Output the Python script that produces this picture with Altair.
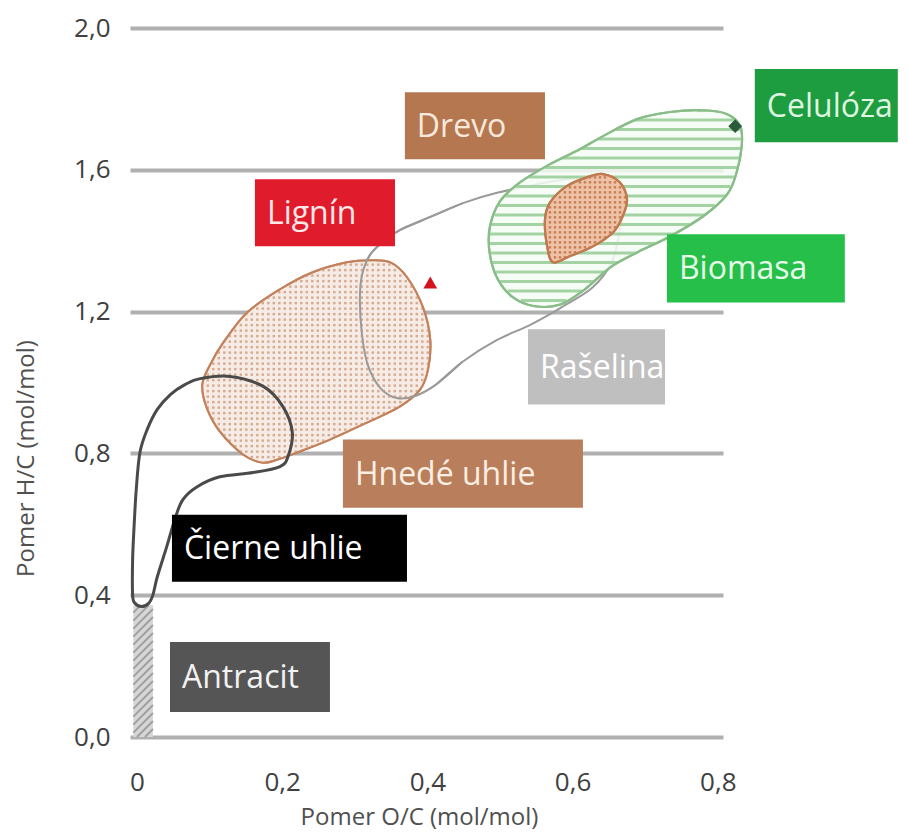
import altair as alt
import numpy as np
import pandas as pd

FONT = "Open Sans"

# ---------------- axis ticks ----------------
X_TICKS = [0, 0.2, 0.4, 0.6, 0.8]
Y_TICKS = [0.0, 0.4, 0.8, 1.2, 1.6, 2.0]

# ---------------- regions (O/C, H/C) ----------------
ANTRACIT_X = [-0.005, 0.022]
ANTRACIT_Y = [0.0, 0.372]

CIERNE_X = [-0.006, -0.006, -0.004, -0.001, 0.004, 0.014, 0.028, 0.046, 0.066, 0.087,
            0.128, 0.174, 0.201, 0.214, 0.208, 0.197, 0.160, 0.114, 0.083, 0.063,
            0.052, 0.041, 0.028, 0.022, 0.016, 0.006, -0.003]
CIERNE_Y = [0.401, 0.500, 0.593, 0.698, 0.802, 0.867, 0.924, 0.966, 0.994, 1.011,
            1.017, 0.989, 0.932, 0.859, 0.791, 0.763, 0.746, 0.734, 0.706, 0.669,
            0.613, 0.537, 0.452, 0.401, 0.377, 0.368, 0.378]

HNEDE_X = [0.289, 0.321, 0.349, 0.372, 0.394, 0.404, 0.401, 0.390, 0.362, 0.317, 0.266,
           0.220, 0.193, 0.172, 0.146, 0.114, 0.096, 0.090, 0.101, 0.119, 0.152, 0.197, 0.242]
HNEDE_Y = [1.339, 1.345, 1.339, 1.297, 1.212, 1.121, 1.037, 0.980, 0.932, 0.887, 0.839,
           0.802, 0.782, 0.774, 0.797, 0.862, 0.929, 0.994, 1.051, 1.113, 1.198, 1.263, 1.311]

RASELINA_X = [0.607, 0.569, 0.496, 0.449, 0.404, 0.362, 0.342, 0.321, 0.310, 0.307, 0.310, 0.318,
              0.335, 0.358, 0.383, 0.411, 0.448, 0.496, 0.541, 0.583, 0.627, 0.654, 0.665, 0.668]
RASELINA_Y = [1.577, 1.566, 1.535, 1.506, 1.467, 1.430, 1.402, 1.360, 1.303, 1.233, 1.134, 1.049,
              0.985, 0.956, 0.962, 0.993, 1.058, 1.120, 1.162, 1.210, 1.267, 1.340, 1.430, 1.501]

BIOMASA_X = [0.610, 0.642, 0.689, 0.734, 0.780, 0.813, 0.831, 0.833, 0.826, 0.813, 0.780, 0.734,
             0.689, 0.652, 0.617, 0.583, 0.548, 0.518, 0.497, 0.486, 0.486, 0.500, 0.528, 0.569]
BIOMASA_Y = [1.658, 1.695, 1.743, 1.763, 1.768, 1.757, 1.723, 1.667, 1.593, 1.531, 1.469, 1.412,
             1.367, 1.325, 1.263, 1.220, 1.215, 1.240, 1.291, 1.362, 1.438, 1.511, 1.565, 1.616]

DREVO_X = [0.642, 0.665, 0.675, 0.669, 0.656, 0.628, 0.596, 0.573, 0.565, 0.562, 0.569, 0.592, 0.620]
DREVO_Y = [1.588, 1.565, 1.517, 1.469, 1.424, 1.384, 1.356, 1.339, 1.384, 1.460, 1.508, 1.554, 1.579]

# ---------------- point markers ----------------
MARKER_NAMES = ["Lignín", "Celulóza"]
MARKER_X = [0.404, 0.824]
MARKER_Y = [1.282, 1.723]
MARKER_SHAPES = ["triangle-up", "diamond"]
MARKER_COLORS = ["#d4121e", "#2b5b3b"]

# ---------------- label boxes ----------------
LABELS = ["Drevo", "Celulóza", "Lignín", "Biomasa", "Rašelina", "Hnedé uhlie", "Čierne uhlie", "Antracit"]
LABEL_X1 = [0.369, 0.851, 0.1625, 0.730, 0.5386, 0.2837, 0.0482, 0.0455]
LABEL_X2 = [0.562, 1.048, 0.3554, 0.975, 0.7273, 0.6143, 0.3719, 0.2658]
LABEL_Y1 = [1.630, 1.678, 1.384, 1.226, 0.938, 0.647, 0.438, 0.0706]
LABEL_Y2 = [1.819, 1.884, 1.573, 1.418, 1.150, 0.839, 0.627, 0.268]
LABEL_FILL = ["#b5774f", "#1d9c40", "#e01b2c", "#25bf4a", "#bfbfbf", "#b97e5b", "#000000", "#555555"]
LABEL_TEXT = ["#f7e8dc", "#dff5e1", "#ffe8e8", "#e6fbe8", "#ffffff", "#fbeee2", "#ffffff", "#f2f2f2"]

# ---------------- geometry helpers (textures) ----------------
W, H = 593, 709
X_DOM = [-0.0096, 0.8072]
Y_DOM = [0.0, 2.0]
SX = W / (X_DOM[1] - X_DOM[0])
SY = H / (Y_DOM[1] - Y_DOM[0])


def poly_df(xs, ys):
    return pd.DataFrame({"x": xs, "y": ys, "i": list(range(len(xs)))})


def inside(X, Y, xs, ys):
    res = np.zeros(X.shape, dtype=bool)
    n = len(xs)
    for k in range(n):
        x1, y1 = xs[k], ys[k]
        x2, y2 = xs[k - 1], ys[k - 1]
        cond = ((y1 > Y) != (y2 > Y)) & (X < (x2 - x1) * (Y - y1) / (y2 - y1 + 1e-12) + x1)
        res ^= cond
    return res


def dot_grid(xs, ys, step_px):
    gx = np.arange(min(xs), max(xs), step_px / SX)
    gy = np.arange(min(ys), max(ys), step_px / SY)
    X, Y = np.meshgrid(gx, gy)
    X, Y = X.ravel(), Y.ravel()
    m = inside(X, Y, xs, ys)
    return pd.DataFrame({"x": X[m], "y": Y[m]})


def h_stripes(xs, ys, step_px):
    rows = []
    n = len(xs)
    for yl in np.arange(min(ys) + step_px / SY * 0.6, max(ys), step_px / SY):
        pts = []
        for k in range(n):
            x1, y1 = xs[k], ys[k]
            x2, y2 = xs[(k + 1) % n], ys[(k + 1) % n]
            if (y1 <= yl < y2) or (y2 <= yl < y1):
                t = (yl - y1) / (y2 - y1)
                pts.append(x1 + t * (x2 - x1))
        pts.sort()
        for a, b in zip(pts[0::2], pts[1::2]):
            rows.append({"x": a, "x2": b, "y": yl})
    return pd.DataFrame(rows)


def diag_hatch(x0, x1, y0, y1, step_px):
    rows = []
    X0, X1, Y0, Y1 = x0 * SX, x1 * SX, y0 * SY, y1 * SY
    for c in np.arange(Y0 - X1, Y1 - X0, step_px):
        a = max(X0, Y0 - c)
        b = min(X1, Y1 - c)
        if b > a:
            rows.append({"x": a / SX, "y": (a + c) / SY, "x2": b / SX, "y2": (b + c) / SY})
    return pd.DataFrame(rows)


xs_ = alt.Scale(domain=X_DOM, nice=False, zero=False)
ys_ = alt.Scale(domain=Y_DOM, nice=False, zero=False)

x_axis = alt.Axis(
    values=X_TICKS,
    labelExpr="datum.value == 0 ? '0' : replace(format(datum.value, '.1f'), '.', ',')",
    grid=False, domain=False, ticks=False, tickSize=0, labelFlush=False,
    labelPadding=32, labelFontSize=26, labelFont=FONT, labelColor="#404040",
    title="Pomer O/C (mol/mol)", titleFont=FONT, titleFontSize=24, titleFontWeight="normal",
    titleColor="#505050", titleX=289, titleY=87, titleBaseline="alphabetic", titleAlign="center",
)
y_axis = alt.Axis(
    values=Y_TICKS,
    labelExpr="replace(format(datum.value, '.1f'), '.', ',')",
    grid=True, gridColor="#b0b0b0", gridWidth=4,
    domain=False, ticks=False, tickSize=0, labelFlush=False,
    labelPadding=20, labelFontSize=26, labelFont=FONT, labelColor="#404040",
    title="Pomer H/C (mol/mol)", titleFont=FONT, titleFontSize=24, titleFontWeight="normal",
    titleColor="#505050", titleX=-104, titleY=430, titleBaseline="middle", titleAlign="center",
    titleAngle=270,
)


def X(field="x"):
    return alt.X(f"{field}:Q", scale=xs_, axis=x_axis, title="Pomer O/C (mol/mol)")


def Y(field="y"):
    return alt.Y(f"{field}:Q", scale=ys_, axis=y_axis, title="Pomer H/C (mol/mol)")


antracit_df = pd.DataFrame({"x": [ANTRACIT_X[0]], "x2": [ANTRACIT_X[1]],
                            "y": [ANTRACIT_Y[0]], "y2": [ANTRACIT_Y[1]]})
base = alt.Chart(antracit_df).mark_rect(color="#d6d6d6").encode(
    x=X(), x2="x2:Q", y=Y(), y2="y2:Q",
)

hatch = alt.Chart(diag_hatch(ANTRACIT_X[0], ANTRACIT_X[1], ANTRACIT_Y[0], ANTRACIT_Y[1], 8)).mark_rule(
    color="#a0a0a0", strokeWidth=2).encode(x=X(), y=Y(), x2="x2:Q", y2="y2:Q")

# peat band outline (drawn under biomass)
peat = alt.Chart(poly_df(RASELINA_X, RASELINA_Y)).mark_line(
    interpolate="cardinal", stroke="#9a9a9a", strokeWidth=2
).encode(x=X(), y=Y(), order="i:Q")

# biomass
bio_fill = alt.Chart(poly_df(BIOMASA_X, BIOMASA_Y)).mark_line(
    interpolate="cardinal-closed", fill="#f4fbf4", fillOpacity=0.85, stroke="#88bd88", strokeWidth=2.2
).encode(x=X(), y=Y(), order="i:Q")
bio_stripes = alt.Chart(h_stripes(BIOMASA_X, BIOMASA_Y, 9.5)).mark_rule(
    color="#a3d3a3", strokeWidth=3).encode(x=X(), x2="x2:Q", y=Y())
bio_line = alt.Chart(poly_df(BIOMASA_X, BIOMASA_Y)).mark_line(
    interpolate="cardinal-closed", stroke="#88bd88", strokeWidth=2.2
).encode(x=X(), y=Y(), order="i:Q")

# lignite
hn_fill = alt.Chart(poly_df(HNEDE_X, HNEDE_Y)).mark_line(
    interpolate="cardinal-closed", fill="#f7ece5", stroke="#c4825c", strokeWidth=2
).encode(x=X(), y=Y(), order="i:Q")
hn_dots = alt.Chart(dot_grid(HNEDE_X, HNEDE_Y, 5.5)).mark_point(
    shape="square", filled=True, size=6, color="#d4ab92", opacity=1).encode(x=X(), y=Y())
hn_line = alt.Chart(poly_df(HNEDE_X, HNEDE_Y)).mark_line(
    interpolate="cardinal-closed", stroke="#c4825c", strokeWidth=2
).encode(x=X(), y=Y(), order="i:Q")

# peat inner curve over lignite
peat_top = alt.Chart(poly_df(RASELINA_X, RASELINA_Y)).mark_line(
    interpolate="cardinal", stroke="#9a9a9a", strokeWidth=2
).encode(x=X(), y=Y(), order="i:Q").transform_filter("datum.x < 0.47")

# wood
dr_fill = alt.Chart(poly_df(DREVO_X, DREVO_Y)).mark_line(
    interpolate="cardinal-closed", fill="#efc2a6", stroke="#c07a50", strokeWidth=2.2
).encode(x=X(), y=Y(), order="i:Q")
dr_dots = alt.Chart(dot_grid(DREVO_X, DREVO_Y, 5)).mark_point(
    shape="square", filled=True, size=6, color="#c47f58", opacity=1).encode(x=X(), y=Y())
dr_line = alt.Chart(poly_df(DREVO_X, DREVO_Y)).mark_line(
    interpolate="cardinal-closed", stroke="#c07a50", strokeWidth=2.2
).encode(x=X(), y=Y(), order="i:Q")

# black coal outline
coal = alt.Chart(poly_df(CIERNE_X, CIERNE_Y)).mark_line(
    interpolate="cardinal-closed", stroke="#4a4a4a", strokeWidth=3
).encode(x=X(), y=Y(), order="i:Q")

# markers
mk_df = pd.DataFrame({"name": MARKER_NAMES, "x": MARKER_X, "y": MARKER_Y,
                      "shape": MARKER_SHAPES, "color": MARKER_COLORS})
markers = alt.Chart(mk_df).mark_point(filled=True, size=190, opacity=1).encode(
    x=X(), y=Y(),
    shape=alt.Shape("shape:N", scale=None),
    color=alt.Color("color:N", scale=None),
)

# label boxes
lb_df = pd.DataFrame({"label": LABELS, "x": LABEL_X1, "x2": LABEL_X2, "y": LABEL_Y1, "y2": LABEL_Y2,
                      "fill": LABEL_FILL, "tcol": LABEL_TEXT})
lb_df["ym"] = (lb_df["y"] + lb_df["y2"]) / 2
boxes = alt.Chart(lb_df).mark_rect().encode(
    x=X(), x2="x2:Q", y=Y(), y2="y2:Q", color=alt.Color("fill:N", scale=None))
texts = alt.Chart(lb_df).mark_text(
    align="left", baseline="middle", dx=12, dy=1, font=FONT, fontSize=32
).encode(x=X(), y=Y("ym"), text="label:N", color=alt.Color("tcol:N", scale=None))

chart = alt.layer(
    base, hatch, peat,
    bio_fill, bio_stripes, bio_line,
    hn_fill, hn_dots, hn_line, peat_top,
    dr_fill, dr_dots, dr_line,
    coal, markers, boxes, texts,
).properties(
    width=W, height=H,
    padding={"left": 122, "top": 20, "right": 177, "bottom": 95},
    autosize=alt.AutoSizeParams(type="none"),
    background="white",
).configure_view(stroke=None)

chart.save("out.html", embed_options={"renderer": "svg", "actions": False})
